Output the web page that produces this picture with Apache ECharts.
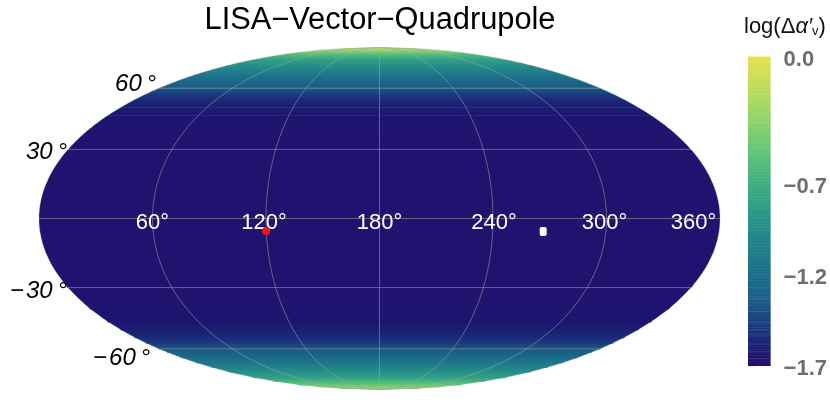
<!DOCTYPE html>
<html><head><meta charset="utf-8">
<style>html,body{margin:0;padding:0;background:#fff}#c{width:830px;height:406px}</style>
<script src="https://cdn.jsdelivr.net/npm/echarts@6/dist/echarts.min.js"></script>
</head><body><div id="c"></div>
<script>
// Values
const rowLatitudes = [90,88,86,84,81,78,74,71,68,65,62,60,57,54,50,46,40,30,15,0,-15,-30,-40,-46,-50,-54,-57,-60,-62,-65,-68,-71,-74,-78,-81,-84,-86,-88,-90];
const rowValues = [0,-0.2,-0.35,-0.48,-0.65,-0.8,-0.92,-1.02,-1.12,-1.22,-1.3,-1.36,-1.46,-1.55,-1.6,-1.63,-1.65,-1.66,-1.66,-1.66,-1.66,-1.66,-1.65,-1.63,-1.6,-1.55,-1.46,-1.36,-1.3,-1.22,-1.12,-1.02,-0.92,-0.8,-0.65,-0.5,-0.42,-0.3,-0.15];
const colorLevels = [-1.7,-1.63,-1.55,-1.45,-1.35,-1.2,-1.0,-0.85,-0.7,-0.55,-0.35,-0.2,0];
const colorValues = ['#260f6e','#1c1670','#1b2a78','#1a4080','#1a5a86','#1b6e8a','#22858b','#2a9a88','#3fae80','#5cc279','#8fd46b','#b5dc5e','#e9e04f'];
const meridians = [60,120,180,240,300];
const edgeMeridians = [0,360];
const parallels = [-60,-30,0,30,60];
const lonLabels = ['60°','120°','180°','240°','300°','360°'];
const lonLabelAt = [60,119,180,240.5,299,346];
const latLabels = ['60\u2009°','30\u2009°','−\u200a30\u2009°','−\u200a60\u2009°'];
const latLabelAt = [60,30,-30,-60];
const latLabelDy = [-4,3,4,9];
const latLabelDx = [-3,-1,-1,-9];
const redPoint = [119.9,-5.3];
const whitePoint = [266.8,-5.6];
const barTicks = [0,-0.7,-1.2,-1.7];
const barStreaks = [-0.2,-0.36,-0.5,-1.27,-1.33,-1.4,-1.46,-1.5,-1.53,-1.58,-1.62,-1.66];
const barTitle = '{a|log(Δ}{i|α′}{s|v}{a|)}';
const titleText = 'LISA−Vector−Quadrupole';

function theta(lat){
  const p = lat*Math.PI/180;
  if (Math.abs(lat)>=90) return Math.sign(lat)*Math.PI/2;
  let t = p;
  for (let i=0;i<40;i++){ t -= (2*t+Math.sin(2*t)-Math.PI*Math.sin(p))/(2+2*Math.cos(2*t)); }
  return t;
}
function proj(lon,lat){ const t=theta(lat); return [(lon-180)/180*Math.cos(t), Math.sin(t)]; }
function colorAt(v){
  for (let i=1;i<colorLevels.length;i++){
    if (v<=colorLevels[i]){
      const f=(v-colorLevels[i-1])/(colorLevels[i]-colorLevels[i-1]);
      return echarts.color.lerp(Math.max(0,f),[colorValues[i-1],colorValues[i]]);
    }
  }
  return colorValues[colorValues.length-1];
}
const FONT='"Liberation Sans",Arial,sans-serif';
const bands = rowLatitudes.slice(0,-1).map((la,i)=>[la,rowLatitudes[i+1],rowValues[i],rowValues[i+1]]);

function renderBand(params,api){
  const a=api.value(0), b=api.value(1), n=8, L=[], R=[];
  for(let k=0;k<=n;k++){
    const la=a+(b-a)*k/n, ex=k===n?0.6:0;
    const l=api.coord(proj(0,la)), r=api.coord(proj(360,la));
    L.push([l[0],l[1]+ex]); R.push([r[0],r[1]+ex]);
  }
  const y1=L[0][1], y2=L[n][1];
  return {type:'polygon',shape:{points:R.concat(L.reverse())},style:{fill:{
    type:'linear',x:0,y:y1,x2:0,y2:y2,global:true,
    colorStops:[{offset:0,color:colorAt(api.value(2))},{offset:1,color:colorAt(api.value(3))}]
  }}};
}
const lineSeries = (pts,alpha)=>({type:'line',xAxisIndex:0,yAxisIndex:0,data:pts,showSymbol:false,silent:true,z:3,
  lineStyle:{color:'rgba(160,160,160,'+alpha+')',width:1},clip:false});
const graticule=[];
const meridianPts=m=>{ const pts=[]; for(let la=-90;la<=90;la+=2) pts.push(proj(m,la)); return pts; };
meridians.forEach(m=>graticule.push(lineSeries(meridianPts(m),0.55)));
edgeMeridians.forEach(m=>graticule.push(lineSeries(meridianPts(m),0.3)));
parallels.forEach(p=>{ graticule.push(lineSeries([proj(0,p),proj(360,p)],0.55)); });

const barRows=[];
for(let i=0;i<210;i++){ barRows.push([-1.7+1.7*i/210,-1.7+1.7*(i+1)/210]); }
function renderBar(params,api){
  const p0=api.coord([0,api.value(0)]), p1=api.coord([1,api.value(1)]);
  const c=colorAt((api.value(0)+api.value(1))/2);
  return {type:'rect',shape:{x:p0[0],y:p1[1]-0.5,width:p1[0]-p0[0],height:p0[1]-p1[1]+0.5},style:{fill:c}};
}
function renderStreak(params,api){
  const p0=api.coord([0,api.value(0)]), p1=api.coord([1,api.value(0)]);
  return {type:'rect',shape:{x:p0[0],y:p0[1]-0.5,width:p1[0]-p0[0],height:1},style:{fill:'rgba(255,255,255,0.1)'}};
}
const chart=echarts.init(document.getElementById('c'),null,{renderer:'canvas'});
chart.setOption({
  animation:false,
  title:[
    {text:titleText,left:375,top:0,textAlign:'center',textStyle:{fontFamily:FONT,fontSize:30.8,fontWeight:'normal',color:'#000'}},
    {text:barTitle,left:739,top:10,textStyle:{fontFamily:FONT,fontWeight:'normal',rich:{
      a:{fontFamily:FONT,fontSize:22,fontWeight:'normal',color:'#111'},
      i:{fontFamily:FONT,fontSize:22,fontWeight:'normal',fontStyle:'italic',color:'#111'},
      s:{fontFamily:FONT,fontSize:13,fontWeight:'normal',color:'#111',padding:[10,0,0,0]}
    }}}
  ],
  grid:[
    {left:39,top:47.5,width:681,height:342,show:false},
    {left:748,top:57,width:26,height:309,show:false}
  ],
  xAxis:[
    {gridIndex:0,type:'value',min:-1,max:1,show:false},
    {gridIndex:1,type:'value',min:0,max:1,show:false}
  ],
  yAxis:[
    {gridIndex:0,type:'value',min:-1,max:1,show:false},
    {gridIndex:1,type:'value',min:-1.7,max:0,position:'right',
     axisLine:{show:true,lineStyle:{color:'#dcdcdc',width:1}},
     axisTick:{show:true,length:7,customValues:barTicks,lineStyle:{color:'#e4e4e4'}},
     splitLine:{show:false},
     axisLabel:{show:true,margin:13,customValues:barTicks,
       formatter:v=>'{t|'+(v<0?'−':'')+Math.abs(v).toFixed(1)+'}',
       rich:{t:{fontFamily:FONT,fontSize:22,fontWeight:'bold',color:'#6e6e6e',padding:[5,0,0,0]}}}}
  ],
  series:[
    {type:'custom',xAxisIndex:0,yAxisIndex:0,coordinateSystem:'cartesian2d',data:bands,renderItem:renderBand,silent:true,z:1,clip:false},
    ...graticule,
    {type:'custom',xAxisIndex:1,yAxisIndex:1,coordinateSystem:'cartesian2d',data:barRows,renderItem:renderBar,silent:true,z:1,clip:false},
    {type:'custom',xAxisIndex:1,yAxisIndex:1,coordinateSystem:'cartesian2d',data:barStreaks.map(v=>[v]),renderItem:renderStreak,silent:true,z:2,clip:false},
    {type:'scatter',xAxisIndex:0,yAxisIndex:0,symbolSize:0,silent:true,z:4,itemStyle:{opacity:1},
     data:lonLabelAt.map((lon,i)=>({value:proj(lon,0),label:{show:true,formatter:lonLabels[i]}})),
     label:{show:true,position:'inside',fontFamily:FONT,fontSize:22,color:'#fff',offset:[0,4],opacity:1}},
    {type:'scatter',xAxisIndex:0,yAxisIndex:0,symbolSize:0,silent:true,z:4,itemStyle:{opacity:1},
     data:latLabelAt.map((lat,i)=>({value:proj(0,lat),label:{show:true,formatter:latLabels[i],offset:[latLabelDx[i],latLabelDy[i]]}})),
     label:{show:true,position:'left',distance:0,fontFamily:FONT,fontSize:24,fontStyle:'italic',color:'#000',opacity:1}},
    {type:'scatter',xAxisIndex:0,yAxisIndex:0,silent:true,z:5,symbol:'circle',symbolSize:8,itemStyle:{color:'#f5101c',opacity:1},data:[proj(redPoint[0],redPoint[1])]},
    {type:'scatter',xAxisIndex:0,yAxisIndex:0,silent:true,z:5,symbol:'roundRect',symbolSize:[7,9],itemStyle:{color:'#ffffff',opacity:1},data:[proj(whitePoint[0],whitePoint[1])]}
  ]
});
</script></body></html>
